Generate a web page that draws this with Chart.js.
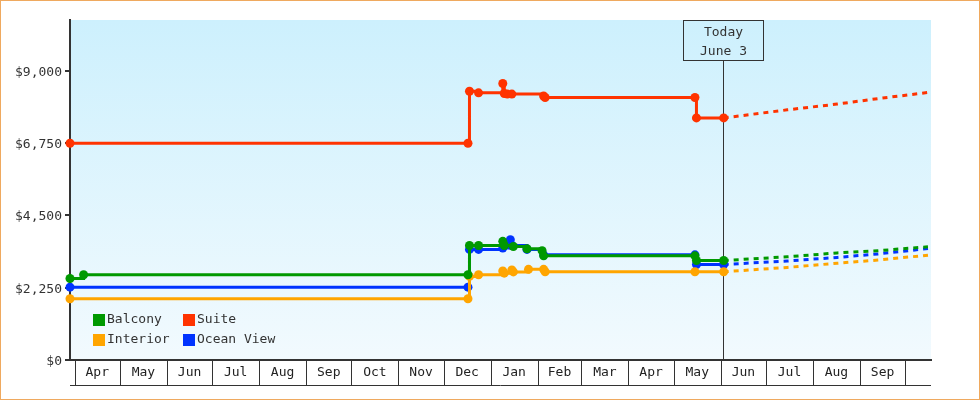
<!DOCTYPE html>
<html>
<head>
<meta charset="utf-8">
<script src="https://cdn.jsdelivr.net/npm/chart.js@4/dist/chart.umd.min.js"></script>
<style>
  html, body { margin: 0; padding: 0; background: #fff; }
  #wrap { width: 980px; height: 400px; position: relative; }
</style>
</head>
<body>
<div id="wrap"><canvas id="myChart" width="980" height="400"></canvas></div>
<script>
// observed prices (step changes)
const balconyDates = ["2023-03-29", "2023-04-07", "2023-12-17", "2023-12-18", "2023-12-24", "2024-01-09", "2024-01-10", "2024-01-16", "2024-01-25", "2024-02-04", "2024-02-05", "2024-05-15", "2024-05-16", "2024-06-03"];
const balconyValues = [2535, 2650, 2650, 3560, 3560, 3690, 3560, 3530, 3460, 3400, 3240, 3240, 3094, 3094];

const suiteDates = ["2023-03-29", "2023-12-17", "2023-12-18", "2023-12-24", "2024-01-09", "2024-01-10", "2024-01-12", "2024-01-15", "2024-02-05", "2024-02-06", "2024-05-15", "2024-05-16", "2024-06-03"];
const suiteValues = [6740, 6740, 8360, 8310, 8600, 8290, 8270, 8270, 8210, 8165, 8165, 7530, 7530];

const interiorDates = ["2023-03-29", "2023-12-17", "2023-12-18", "2023-12-24", "2024-01-09", "2024-01-10", "2024-01-15", "2024-01-16", "2024-01-26", "2024-02-05", "2024-02-06", "2024-05-15", "2024-06-03"];
const interiorValues = [1905, 1905, 2600, 2650, 2770, 2700, 2800, 2740, 2820, 2820, 2745, 2745, 2745];

const oceanDates = ["2023-03-29", "2023-12-17", "2023-12-18", "2023-12-24", "2024-01-09", "2024-01-14", "2024-01-15", "2024-01-25", "2024-02-05", "2024-05-15", "2024-05-16", "2024-06-03"];
const oceanValues = [2265, 2265, 3440, 3440, 3480, 3740, 3560, 3440, 3270, 3270, 2970, 2970];

// forecast (dashed)
const forecastDates = ["2024-06-03", "2024-07-15", "2024-08-17", "2024-09-13", "2024-10-16"];
const balconyForecast = [3094, 3210, 3330, 3400, 3520];
const suiteForecast = [7530, 7780, 7960, 8130, 8320];
const interiorForecast = [2745, 2880, 3010, 3110, 3260];
const oceanForecast = [2970, 3080, 3190, 3300, 3466];

const monthStarts = ["2023-04-01", "2023-05-01", "2023-06-01", "2023-07-01", "2023-08-01", "2023-09-01", "2023-10-01", "2023-11-01", "2023-12-01", "2024-01-01", "2024-02-01", "2024-03-01", "2024-04-01", "2024-05-01", "2024-06-01", "2024-07-01", "2024-08-01", "2024-09-01", "2024-10-01"];
const monthLabels = ["Apr", "May", "Jun", "Jul", "Aug", "Sep", "Oct", "Nov", "Dec", "Jan", "Feb", "Mar", "Apr", "May", "Jun", "Jul", "Aug", "Sep"];
const yTicks = [0, 2250, 4500, 6750, 9000];
const yMax = 10575;
const xStart = "2023-03-29";
const xEnd = "2024-10-18";
const today = "2024-06-03";
const todayLabel = ["Today", "June 3"];

const FONT = "DejaVu Sans Mono";
const colors = { Balcony: "#009900", Suite: "#ff3300", Interior: "#ffa500", "Ocean View": "#0033ff" };

const day0 = Date.UTC(2023, 3, 1);
function toDay(s) {
  const [y, m, d] = s.split("-").map(Number);
  return (Date.UTC(y, m - 1, d) - day0) / 864e5;
}
function series(dates, values) {
  return dates.map((d, i) => ({ x: toDay(d), y: values[i] }));
}

function actual(label, dates, values) {
  return {
    label: label,
    data: series(dates, values),
    borderColor: colors[label],
    backgroundColor: colors[label],
    borderWidth: 3,
    stepped: true,
    pointRadius: 4.5,
    pointBorderWidth: 0,
    pointHoverRadius: 4.5,
    clip: false,
  };
}
function forecast(label, values) {
  return {
    label: label + " forecast",
    data: series(forecastDates, values),
    borderColor: colors[label],
    borderWidth: 3,
    borderDash: [5, 5],
    pointRadius: 0,
    clip: false,
  };
}

const backdrop = {
  id: "backdrop",
  beforeDraw(chart) {
    const { ctx, chartArea: a } = chart;
    ctx.save();
    ctx.fillStyle = "#fff";
    ctx.fillRect(0, 0, chart.width, chart.height);
    const g = ctx.createLinearGradient(0, a.top, 0, a.bottom);
    g.addColorStop(0, "#cdf0fd");
    g.addColorStop(1, "#f2fafe");
    ctx.fillStyle = g;
    ctx.fillRect(a.left, a.top, a.right - a.left, a.bottom - a.top);
    ctx.restore();
  },
};

const todayMarker = {
  id: "todayMarker",
  beforeDatasetsDraw(chart) {
    const { ctx, chartArea: a, scales } = chart;
    const x = Math.round(scales.x.getPixelForValue(toDay(today))) - 0.5;
    ctx.save();
    ctx.strokeStyle = "#333";
    ctx.lineWidth = 1;
    ctx.strokeRect(x - 40, a.top + 0.5, 80, 40);
    ctx.beginPath();
    ctx.moveTo(x, a.top + 40.5);
    ctx.lineTo(x, a.bottom);
    ctx.stroke();
    ctx.fillStyle = "#333";
    ctx.font = "13px '" + FONT + "'";
    ctx.textAlign = "center";
    ctx.textBaseline = "middle";
    ctx.fillText(todayLabel[0], x, a.top + 13);
    ctx.fillText(todayLabel[1], x, a.top + 32);
    ctx.restore();
  },
};

const monthTable = {
  id: "monthTable",
  afterDraw(chart) {
    const { ctx, chartArea: a, scales } = chart;
    const xs = scales.x;
    const bottom = a.bottom + 25;
    ctx.save();
    ctx.strokeStyle = "#333";
    ctx.lineWidth = 1;
    ctx.beginPath();
    ctx.moveTo(a.left, bottom + 0.5);
    ctx.lineTo(a.right, bottom + 0.5);
    monthStarts.forEach((m) => {
      const px = Math.round(xs.getPixelForValue(toDay(m))) + 0.5;
      ctx.moveTo(px, a.bottom);
      ctx.lineTo(px, bottom);
    });
    ctx.stroke();
    ctx.fillStyle = "#222";
    ctx.font = "13px '" + FONT + "'";
    ctx.textAlign = "center";
    ctx.textBaseline = "middle";
    monthLabels.forEach((lab, i) => {
      const p1 = xs.getPixelForValue(toDay(monthStarts[i]));
      const p2 = xs.getPixelForValue(toDay(monthStarts[i + 1]));
      ctx.fillText(lab, (p1 + p2) / 2, a.bottom + 13);
    });
    // legend, two columns inside the plot
    const names = ["Balcony", "Suite", "Interior", "Ocean View"];
    ctx.textAlign = "left";
    names.forEach((n, i) => {
      const bx = a.left + 23 + (i % 2) * 90;
      const by = a.bottom - 46 + Math.floor(i / 2) * 20;
      ctx.fillStyle = colors[n];
      ctx.fillRect(bx, by, 12, 12);
      ctx.fillStyle = "#333";
      ctx.fillText(n, bx + 14, by + 6);
    });
    // outer frame
    ctx.strokeStyle = "#efa95f";
    ctx.strokeRect(0.5, 0.5, chart.width - 1, chart.height - 1);
    ctx.restore();
  },
};

new Chart(document.querySelector("#myChart"), {
  type: "line",
  data: {
    datasets: [
      actual("Balcony", balconyDates, balconyValues),
      actual("Suite", suiteDates, suiteValues),
      actual("Interior", interiorDates, interiorValues),
      actual("Ocean View", oceanDates, oceanValues),
      forecast("Balcony", balconyForecast),
      forecast("Suite", suiteForecast),
      forecast("Interior", interiorForecast),
      forecast("Ocean View", oceanForecast),
    ],
  },
  options: {
    responsive: false,
    animation: false,
    layout: { padding: { top: 20, right: 49, left: 0, bottom: 0 } },
    plugins: { legend: { display: false }, tooltip: { enabled: false } },
    scales: {
      x: {
        type: "linear",
        min: toDay(xStart),
        max: toDay(xEnd),
        afterFit: (s) => { s.height = 40; },
        grid: { display: false },
        ticks: { display: false },
        border: { display: true, color: "#333", width: 2 },
      },
      y: {
        min: 0,
        max: yMax,
        afterFit: (s) => { s.width = 70; },
        afterBuildTicks: (s) => { s.ticks = yTicks.map((v) => ({ value: v })); },
        grid: { drawOnChartArea: false, tickLength: 5, color: "#333", lineWidth: 2 },
        border: { display: true, color: "#333", width: 2 },
        ticks: {
          color: "#333",
          padding: 3,
          labelOffset: 1.5,
          font: { family: FONT, size: 13 },
          callback: (v) => "$" + v.toLocaleString("en-US"),
        },
      },
    },
  },
  plugins: [backdrop, todayMarker, monthTable],
});
</script>
</body>
</html>
